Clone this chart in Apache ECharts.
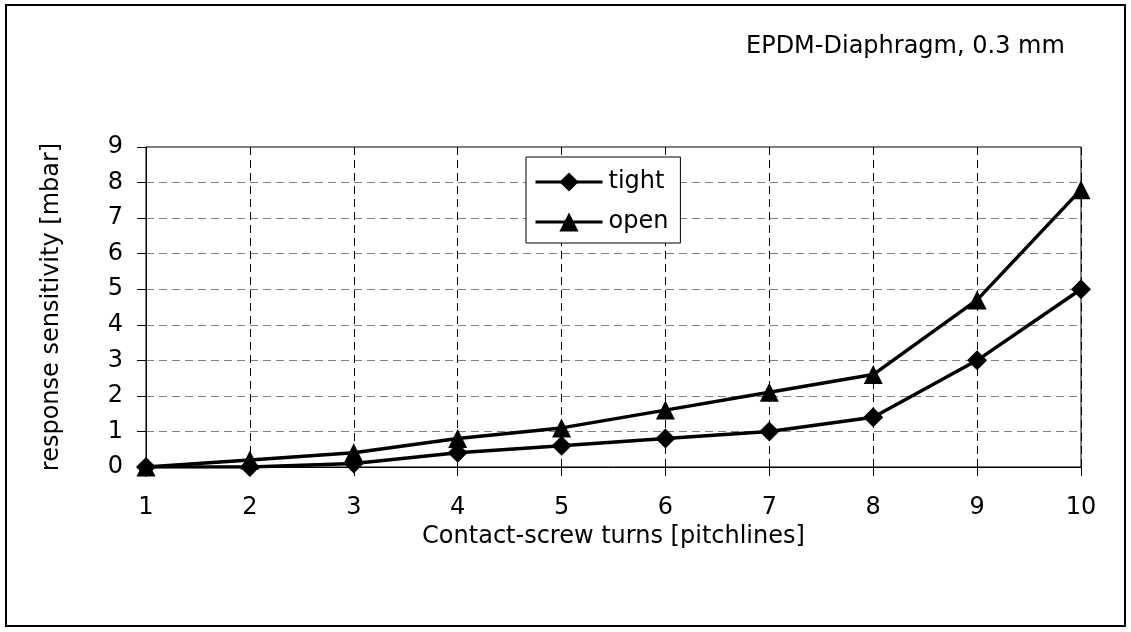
<!DOCTYPE html>
<html>
<head>
<meta charset="utf-8">
<script src="https://cdn.jsdelivr.net/npm/echarts@6/dist/echarts.min.js"></script>
<style>
  html, body { margin: 0; padding: 0; background: #fff; }
  #chart { width: 1131px; height: 632px; }
</style>
</head>
<body>
<div id="chart"></div>
<script>
// contact-screw turns
var turns = [1, 2, 3, 4, 5, 6, 7, 8, 9, 10];
var tight = [0, 0, 0.1, 0.4, 0.6, 0.8, 1.0, 1.4, 3.0, 5.0];
var open = [0, 0.2, 0.4, 0.8, 1.1, 1.6, 2.1, 2.6, 4.7, 7.8];

function pairs(ys) {
  return turns.map(function (t, i) { return [t, ys[i]]; });
}

var font = "DejaVu Sans";
var chart = echarts.init(document.getElementById("chart"));
var option = {
  backgroundColor: "#fff",
  animation: false,
  textStyle: { fontFamily: font, color: "#000" },
  title: {
    text: "EPDM-Diaphragm, 0.3 mm",
    left: 741,
    top: 30,
    textStyle: { fontFamily: font, fontSize: 24, fontWeight: "normal", color: "#000" },
  },
  graphic: [
    {
      type: "rect",
      shape: { x: 6, y: 5, width: 1119, height: 621 },
      style: { fill: "none", stroke: "#000", lineWidth: 2 },
      silent: true,
    },
  ],
  legend: {
    left: 526,
    top: 157,
    orient: "vertical",
    backgroundColor: "#fff",
    borderColor: "#000",
    borderWidth: 1,
    borderRadius: 0,
    padding: [13, 12, 9, 8],
    itemWidth: 67,
    itemHeight: 24,
    itemGap: 16,
    lineStyle: { width: 3, color: "#000" },
    textStyle: { fontFamily: font, fontSize: 24, color: "#000", padding: [0, 0, 0, 1] },
    data: ["tight", "open"],
  },
  grid: {
    left: 146,
    right: 50,
    top: 147,
    bottom: 165,
    show: true,
    borderColor: "#000",
    borderWidth: 1,
  },
  xAxis: {
    type: "value",
    min: 1,
    max: 10,
    interval: 1,
    name: "Contact-screw turns [pitchlines]",
    nameLocation: "middle",
    nameGap: 57,
    nameTextStyle: { fontFamily: font, fontSize: 24, color: "#000" },
    axisLine: { lineStyle: { color: "#000", width: 1 } },
    axisTick: { show: true, inside: false, length: 9, lineStyle: { color: "#000" } },
    axisLabel: { fontFamily: font, fontSize: 24, color: "#000", margin: 29 },
    splitLine: { show: true, lineStyle: { color: "#000", type: [8, 5], width: 1 } },
  },
  yAxis: {
    type: "value",
    min: 0,
    max: 9,
    interval: 1,
    name: "response sensitivity [mbar]",
    nameLocation: "middle",
    nameGap: 82,
    nameRotate: 90,
    nameTextStyle: { fontFamily: font, fontSize: 24, color: "#000" },
    axisLine: { show: true, lineStyle: { color: "#000", width: 1 } },
    axisTick: { show: true, inside: false, length: 9, lineStyle: { color: "#000" } },
    axisLabel: { fontFamily: font, fontSize: 24, color: "#000", margin: 23 },
    splitLine: { show: true, lineStyle: { color: "#808080", type: [8, 5], width: 1 } },
  },
  series: [
    {
      name: "tight",
      type: "line",
      data: pairs(tight),
      symbol: "diamond",
      symbolSize: 20,
      lineStyle: { color: "#000", width: 3.5 },
      itemStyle: { color: "#000" },
      z: 3,
    },
    {
      name: "open",
      type: "line",
      data: pairs(open),
      symbol: "triangle",
      symbolSize: 19,
      lineStyle: { color: "#000", width: 3.5 },
      itemStyle: { color: "#000" },
      z: 3,
    },
  ],
};
chart.setOption(option);
</script>
</body>
</html>
